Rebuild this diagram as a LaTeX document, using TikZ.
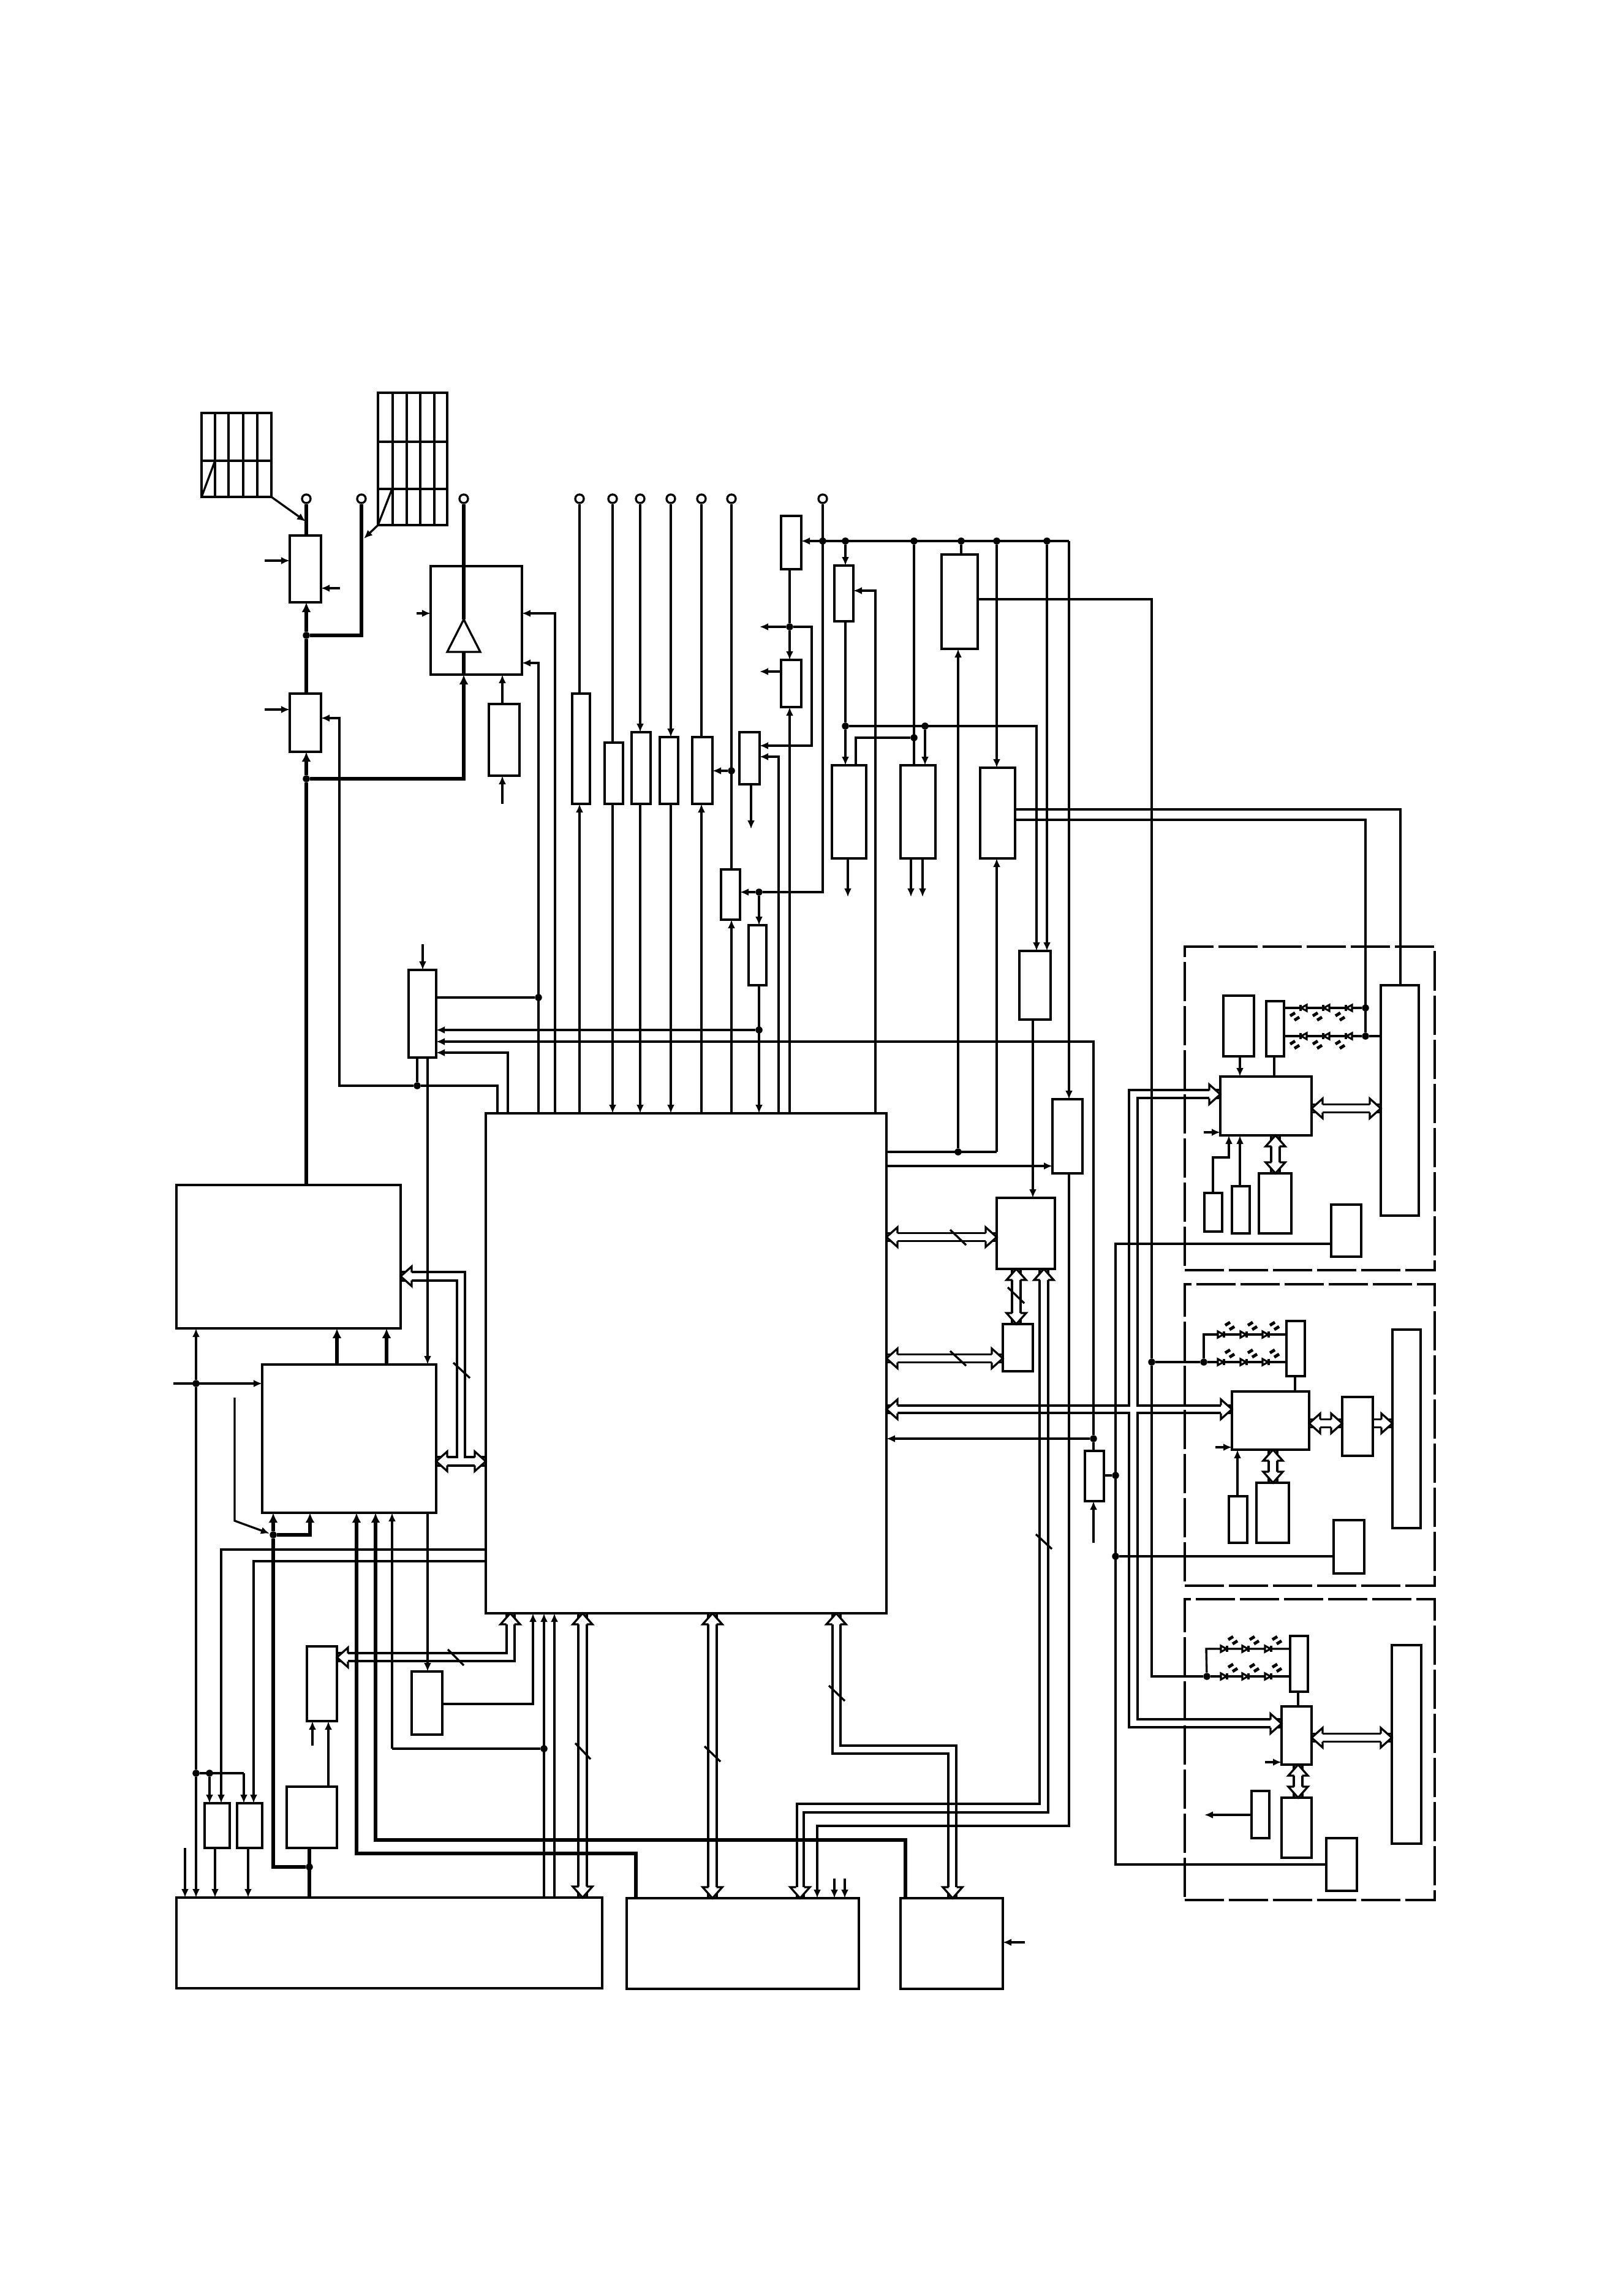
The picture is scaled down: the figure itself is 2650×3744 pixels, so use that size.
\documentclass[tikz,border=0pt]{standalone}
\usetikzlibrary{arrows.meta}
\tikzset{
  blk/.style={draw, rectangle, inner sep=0pt, outer sep=0pt, line width=1.2pt},
  zone/.style={blk, line width=1.3pt, dash pattern=on .64cm off .08cm},
  wire/.style={line width=.95pt},
  arw/.style={wire, -{Latex[length=.14cm,width=.12cm]}},
  heavy/.style={line width=1.55pt},
  harw/.style={heavy, -{Latex[length=.16cm,width=.15cm]}},
  dot/.style={circle, fill, inner sep=0pt, minimum size=.115cm},
  term/.style={circle, draw, fill=white, inner sep=0pt, minimum size=.14cm, line width=.95pt},
  bushead/.pic={\filldraw[fill=white, line width=.95pt] (-18,-6.5) -- (-18,-16) -- (0,0) -- (-18,16) -- (-18,6.5);},
  diode/.pic={
    \filldraw[fill=white, line width=.9pt] (-5,-5) -- (-5,5) -- (4,0) -- cycle;
    \draw[line width=1.3pt] (5,-5) -- (5,5);
    \draw[line width=1.4pt] (7,-15) -- (15,-20);
    \draw[line width=1.4pt] (14,-8) -- (22,-13);
  },
}
\newcommand{\blkbox}[6][]{\node[blk,#1,minimum width={(#5-#3)*.01cm},minimum height={(#6-#4)*.01cm}] (#2) at ({(#3+#5)/2},{(#4+#6)/2}) {};}
\newcommand{\hbus}[2]{\draw[wire] ([yshift=.065cm]#1) -- ([yshift=.065cm]#2); \draw[wire] ([yshift=-.065cm]#1) -- ([yshift=-.065cm]#2);}
\newcommand{\vbus}[2]{\draw[wire] ([xshift=.07cm]#1) -- ([xshift=.07cm]#2); \draw[wire] ([xshift=-.07cm]#1) -- ([xshift=-.07cm]#2);}
\begin{document}
\begin{tikzpicture}[x=.01cm,y=-.01cm]
  \useasboundingbox (0,0) rectangle (2650,3744);
  % panels at the top
  \blkbox[wire]{panA}{329}{674}{443}{811}
  \blkbox[wire]{panB}{617}{641}{730}{857}
  \foreach \x in {351,373,397,420} \draw[wire] (\x,674) -- (\x,811);
  \foreach \x in {641,664,686,709} \draw[wire] (\x,641) -- (\x,857);
  \draw[wire] (329,752) -- (443,752);
  \draw[wire] (617,721) -- (730,721);
  \draw[wire] (617,798) -- (730,798);
  \draw[wire] (329,811) -- (351,752);
  \draw[wire] (617,857) -- (640,798);
  \coordinate (qa) at (499,851);
  \coordinate (qb) at (594,879);
  \draw[arw] (panA.south east) -- (qa);
  \draw[arw] (panB.south west) -- (qb);
  % terminals
  \foreach \n/\x in {a/500,b/590,c/757,d/946,e/1000,f/1045,g/1095,h/1145,i/1194,j/1343}
    \node[term] (p\n) at (\x,814) {};
  % junctions
  \foreach \n/\x/\y in {ja/500/1037,jb/500/1271,jc/681/1772,jd/879/1628,je/1239/1681,jf/1239/1456,
      jg/1194/1258,jh/1289/1023,ji/1343/883,jj/1380/883,jk/1492/883,jl/1569/883,jm/1627/883,jn/1709/883,
      jo/1380/1185,jp/1510/1185,jq/1492/1204,jr/1564/1880,js/1821/2408,jt/1821/2540,ju/1785/2348,
      jv/1880/2223,jw/1965/2223,jx/1970/2736,jy/2229/1645,jz/2229/1691,
      k1/320/2258,k2/320/2894,k3/342/2894,k4/505/3047,k5/446/2505,k6/888/2854}
    \node[dot] (\n) at (\x,\y) {};
  % blocks
  \blkbox{sw1}{473}{874}{524}{983}
  \blkbox{sw2}{473}{1132}{524}{1227}
  \blkbox{amp}{703}{924}{852}{1101}
  \blkbox{ampin}{798}{1149}{848}{1266}
  \blkbox{b1}{934}{1132}{963}{1312}
  \blkbox{b2}{987}{1212}{1017}{1312}
  \blkbox{b3}{1031}{1195}{1062}{1312}
  \blkbox{b4}{1077}{1203}{1107}{1312}
  \blkbox{b5}{1130}{1203}{1163}{1312}
  \blkbox{b6}{1207}{1195}{1240}{1280}
  \blkbox{b7}{1177}{1419}{1208}{1501}
  \blkbox{b8}{1222}{1510}{1251}{1608}
  \blkbox{b9}{1275}{842}{1308}{929}
  \blkbox{b10}{1275}{1077}{1308}{1154}
  \blkbox{b11}{1362}{923}{1393}{1014}
  \blkbox{b12}{1358}{1249}{1414}{1401}
  \blkbox{b13}{1470}{1249}{1527}{1401}
  \blkbox{b14}{1537}{905}{1596}{1059}
  \blkbox{b15}{1600}{1253}{1657}{1401}
  \blkbox{b16}{1664}{1552}{1715}{1664}
  \blkbox{b17}{1718}{1794}{1767}{1915}
  \blkbox{b18}{1771}{2368}{1802}{2450}
  \blkbox{cpu}{793}{1817}{1447}{2633}
  \blkbox{ctl}{667}{1583}{712}{1726}
  \blkbox{pwr}{288}{1934}{654}{2168}
  \blkbox{mix}{428}{2227}{712}{2469}
  \blkbox{s1}{334}{2943}{375}{3016}
  \blkbox{s2}{387}{2943}{428}{3016}
  \blkbox{osc}{468}{2916}{550}{3016}
  \blkbox{dac}{501}{2687}{550}{2809}
  \blkbox{adc}{672}{2728}{722}{2831}
  \blkbox{bat}{288}{3097}{983}{3245}
  \blkbox{mem}{1023}{3098}{1402}{3246}
  \blkbox{ext}{1470}{3098}{1637}{3246}
  \blkbox{c1}{1627}{1955}{1722}{2071}
  \blkbox{c2}{1637}{2161}{1686}{2238}
  % dashed zones
  \blkbox[zone]{zone1}{1934}{1545}{2342}{2073}
  \blkbox[zone]{zone2}{1934}{2096}{2342}{2588}
  \blkbox[zone]{zone3}{1934}{2610}{2342}{3101}
  \blkbox{z1a}{1997}{1625}{2047}{1724}
  \blkbox{z1b}{2067}{1634}{2096}{1724}
  \blkbox{z1m}{1992}{1757}{2141}{1853}
  \blkbox{z1c}{2055}{1915}{2108}{2013}
  \blkbox{z1d}{2011}{1936}{2040}{2013}
  \blkbox{z1e}{1966}{1947}{1995}{2010}
  \blkbox{z1f}{2173}{1966}{2222}{2051}
  \blkbox{z1s}{2254}{1608}{2316}{1984}
  \blkbox{z2b}{2100}{2156}{2130}{2246}
  \blkbox{z2m}{2011}{2271}{2137}{2366}
  \blkbox{z2c}{2051}{2420}{2104}{2518}
  \blkbox{z2d}{2006}{2442}{2036}{2518}
  \blkbox{z2f}{2177}{2481}{2227}{2568}
  \blkbox{z2g}{2191}{2280}{2241}{2376}
  \blkbox{z2s}{2273}{2170}{2319}{2494}
  \blkbox{z3b}{2106}{2670}{2135}{2761}
  \blkbox{z3m}{2092}{2785}{2141}{2880}
  \blkbox{z3c}{2092}{2934}{2141}{3032}
  \blkbox{z3d}{2043}{2923}{2072}{3000}
  \blkbox{z3f}{2165}{3000}{2215}{3086}
  \blkbox{z3s}{2272}{2685}{2320}{3009}
  % heavy supply lines
  \coordinate (ampt) at (757,1011);
  \coordinate (ampb) at (757,1064);
  \draw[heavy] (pa) -- (pa |- sw1.north);
  \draw[harw] (ja) -- (ja |- sw1.south);
  \draw[heavy] (ja) -- (ja |- sw2.north);
  \draw[heavy] (ja) -| (pb);
  \draw[harw] (jb) -- (jb |- sw2.south);
  \draw[heavy] (jb) -- (jb |- pwr.north);
  \draw[harw] (jb) -| (ampb |- amp.south);
  \draw[heavy] (ampb |- amp.south) -- (ampb);
  \draw[heavy] (pc) -- (ampt);
  \draw[wire] (ampt) -- (730,1064) -- (784,1064) -- cycle;
  \coordinate (lf) at (550,2200);
  \coordinate (lg) at (631,2200);
  \draw[harw] (lf |- mix.north) -- (lf |- pwr.south);
  \draw[harw] (lg |- mix.north) -- (lg |- pwr.south);
  \coordinate (le) at (506,2480);
  \coordinate (lh) at (1038,3025);
  \coordinate (li) at (582,3025);
  \coordinate (lj) at (1478,3003);
  \coordinate (lk) at (613,3003);
  \draw[heavy] (k4 |- osc.south) -- (k4 |- bat.north);
  \draw[heavy] (k4) -| (k5);
  \draw[harw] (k5) -- (k5 |- mix.south);
  \draw[harw] (k5) -| (le |- mix.south);
  \draw[harw] (lh |- mem.north) -- (lh) -- (li) -- (li |- mix.south);
  \draw[harw] (lj |- ext.north) -- (lj) -- (lk) -- (lk |- mix.south);
  % upper left wires
  \coordinate (ia) at (432,915);
  \coordinate (ib) at (555,960);
  \coordinate (ic) at (432,1158);
  \coordinate (id) at (680,1001);
  \coordinate (ie) at (820,1312);
  \coordinate (ka) at (554,1172);
  \coordinate (kb) at (812,1772);
  \coordinate (kc) at (690,1541);
  \coordinate (kd) at (1785,1700);
  \coordinate (ke) at (1785,2518);
  \coordinate (kf) at (829,1718);
  \coordinate (kg) at (698,1800);
  \coordinate (kh) at (879,1082);
  \coordinate (kz) at (906,1001);
  \draw[arw] (ia) -- (ia -| sw1.west);
  \draw[arw] (ib) -- (ib -| sw1.east);
  \draw[arw] (ic) -- (ic -| sw2.west);
  \draw[arw] (id) -- (id -| amp.west);
  \draw[arw] (ampin.north -| ie) -- (ie |- amp.south);
  \draw[arw] (ie) -- (ie |- ampin.south);
  \draw[arw] (jc) -| (ka) -- (ka -| sw2.east);
  \draw[wire] (jc) -- (kb) -- (kb |- cpu.north);
  \draw[arw] (kc) -- (kc |- ctl.north);
  \draw[wire] (jd -| ctl.east) -- (jd);
  \draw[arw] (je) -- (je -| ctl.east);
  \draw[arw] (ju) -- (kd) -- (kd -| ctl.east);
  \draw[arw] (kf |- cpu.north) -- (kf) -- (kf -| ctl.east);
  \draw[wire] (jc |- ctl.south) -- (jc);
  \draw[arw] (kg |- ctl.south) -- (kg |- mix.north);
  \draw[arw] (kg |- mix.south) -- (kg |- adc.north);
  \draw[arw] (jd |- cpu.north) -- (kh) -- (kh -| amp.east);
  \draw[arw] (kz |- cpu.north) -- (kz) -- (kz -| amp.east);
  % row of blocks above the processor
  \draw[wire] (pd) -- (pd |- b1.north);
  \draw[arw] (pd |- cpu.north) -- (pd |- b1.south);
  \draw[wire] (pe) -- (pe |- b2.north);
  \draw[arw] (pe |- b2.south) -- (pe |- cpu.north);
  \draw[arw] (pf) -- (pf |- b3.north);
  \draw[arw] (pf |- b3.south) -- (pf |- cpu.north);
  \draw[arw] (pg) -- (pg |- b4.north);
  \draw[arw] (pg |- b4.south) -- (pg |- cpu.north);
  \draw[wire] (ph) -- (ph |- b5.north);
  \draw[arw] (ph |- cpu.north) -- (ph |- b5.south);
  \draw[wire] (pi) -- (pi |- b7.north);
  \draw[arw] (pi |- cpu.north) -- (pi |- b7.south);
  \draw[arw] (jg) -- (jg -| b5.east);
  \coordinate (ki) at (1226,1353);
  \coordinate (kj) at (1325,1217);
  \coordinate (kk) at (1271,1235);
  \coordinate (kl) at (1240,1023);
  \coordinate (km) at (1240,1096);
  \coordinate (kn) at (1745,883);
  \coordinate (ko) at (1692,1185);
  \coordinate (kp) at (1397,1204);
  \coordinate (kq) at (1384,1464);
  \coordinate (kr) at (1880,978);
  \coordinate (ks) at (1686,1900);
  \coordinate (kt) at (1718,1903);
  \coordinate (ku) at (1745,2980);
  \coordinate (kv) at (1334,2980);
  \coordinate (kw) at (2286,1321);
  \coordinate (kx) at (1627,1880);
  \coordinate (ky) at (2229,1338);
  \coordinate (ct) at (1429,964);
  \coordinate (kq1) at (1487,1464);
  \coordinate (kq2) at (1506,1464);
  \draw[arw] (ki |- b6.south) -- (ki);
  \draw[arw] (jh) -| (kj) -- (kj -| b6.east);
  \draw[arw] (kk |- cpu.north) -- (kk) -- (kk -| b6.east);
  \draw[wire] (jh |- b9.south) -- (jh);
  \draw[arw] (jh) -- (jh |- b10.north);
  \draw[arw] (jh) -- (kl);
  \draw[arw] (km -| b10.west) -- (km);
  \draw[arw] (jh |- cpu.north) -- (jh |- b10.south);
  \draw[arw] (kn) -- (kn -| b9.east);
  \draw[arw] (kn) -- (kn |- b17.north);
  \draw[wire] (pj) |- (jf);
  \draw[arw] (jf) -- (jf -| b7.east);
  \draw[arw] (jf) -- (jf |- b8.north);
  \draw[arw] (jf |- b8.south) -- (jf |- cpu.north);
  \draw[arw] (jj) -- (jj |- b11.north);
  \draw[wire] (jj |- b11.south) -- (jo);
  \draw[arw] (jo) -- (jo |- b12.north);
  \draw[arw] (ct |- cpu.north) -- (ct) -- (ct -| b11.east);
  \draw[arw] (jo) -- (ko) -- (ko |- b16.north);
  \draw[arw] (jp) -- (jp |- b13.north);
  \draw[wire] (jk) -- (jk |- b13.north);
  \draw[wire] (jq) -- (kp) -- (kp |- b12.north);
  \draw[arw] (kq |- b12.south) -- (kq);
  \draw[arw] (kq1 |- b13.south) -- (kq1);
  \draw[arw] (kq2 |- b13.south) -- (kq2);
  \draw[wire] (jl) -- (jl |- b14.north);
  \draw[wire] (kr -| b14.east) -- (kr) -- (jv);
  \draw[wire] (jv) |- (jx);
  \draw[wire] (jv) -- (jw);
  \draw[arw] (jm) -- (jm |- b15.north);
  \draw[wire] (cpu.east |- jr) -- (kx);
  \draw[arw] (kx) -- (kx |- b15.south);
  \draw[arw] (jr) -- (jr |- b14.south);
  \draw[arw] (jn) -- (jn |- b16.north);
  \draw[arw] (ks |- b16.south) -- (ks |- c1.north);
  \draw[arw] (kt -| cpu.east) -- (kt);
  \draw[arw] (ku |- b17.south) -- (ku) -- (kv) -- (kv |- mem.north);
  \draw[wire] (kw -| b15.east) -- (kw) -- (kw |- z1s.north);
  \draw[wire] (ky -| b15.east) -- (ky) -- (jz);
  % block by the zones
  \coordinate (kaa) at (1821,2030);
  \coordinate (kab) at (1821,3043);
  \draw[arw] (ju) -- (ju -| cpu.east);
  \draw[wire] (ju) -- (ju |- b18.north);
  \draw[arw] (ke) -- (ke |- b18.south);
  \draw[wire] (js -| b18.east) -- (js);
  \draw[wire] (z1f.west |- kaa) -- (kaa) -- (kab) -- (kab -| z3f.west);
  \draw[wire] (jt) -- (jt -| z2f.west);
  % zone 1
  \coordinate (za) at (1965,1848);
  \coordinate (zb) at (1980,1889);
  \coordinate (zc) at (2006,1889);
  \draw[wire] (jy -| z1b.east) -- (jy);
  \draw[wire] (jz -| z1b.east) -- (jz);
  \draw[wire] (jz) -- (jz -| z1s.west);
  \foreach \x in {2128,2165,2202} {
    \pic[rotate=180] at (\x,1645) {diode};
    \pic[rotate=180] at (\x,1691) {diode};
  }
  \coordinate (zd) at (2024,1800);
  \coordinate (ze) at (2080,1800);
  \draw[arw] (zd |- z1a.south) -- (zd |- z1m.north);
  \draw[wire] (ze |- z1b.south) -- (ze |- z1m.north);
  \draw[arw] (zd |- z1d.north) -- (zd |- z1m.south);
  \draw[arw] (za) -- (za -| z1m.west);
  \draw[arw] (zb |- z1e.north) -- (zb) -- (zc) -- (zc |- z1m.south);
  % zone 2
  \coordinate (zf) at (1965,2178);
  \coordinate (zg) at (1984,2362);
  \coordinate (zh) at (2020,2400);
  \coordinate (zi) at (2114,2260);
  \draw[wire] (jw) -- (zf) -- (zf -| z2b.west);
  \draw[wire] (jw) -- (jw -| z2b.west);
  \foreach \x in {1993,2030,2066} {
    \pic at (\x,2178) {diode};
    \pic at (\x,2223) {diode};
  }
  \draw[wire] (zi |- z2b.south) -- (zi |- z2m.north);
  \draw[arw] (zg) -- (zg -| z2m.west);
  \draw[arw] (zh |- z2d.north) -- (zh |- z2m.south);
  % zone 3
  \coordinate (zj) at (1969,2691);
  \coordinate (zk) at (2065,2876);
  \coordinate (zl) at (1966,2962);
  \coordinate (zm) at (2119,2770);
  \draw[wire] (jx) -- (zj) -- (zj -| z3b.west);
  \draw[wire] (jx) -- (jx -| z3b.west);
  \foreach \x in {1998,2033,2070} {
    \pic at (\x,2691) {diode};
    \pic at (\x,2736) {diode};
  }
  \draw[wire] (zm |- z3b.south) -- (zm |- z3m.north);
  \draw[arw] (zk) -- (zk -| z3m.west);
  \draw[arw] (zl -| z3d.west) -- (zl);
  % lower left wires
  \coordinate (la) at (361,2529);
  \coordinate (lb) at (414,2548);
  \coordinate (lc) at (383,2281);
  \coordinate (ld) at (383,2482);
  \coordinate (lo) at (283,2258);
  \coordinate (lp) at (302,3016);
  \coordinate (lq) at (398,2894);
  \coordinate (lr) at (1673,3170);
  \coordinate (ls) at (351,3060);
  \coordinate (lt) at (405,3060);
  \coordinate (lu) at (536,2860);
  \coordinate (lv) at (510,2849);
  \coordinate (lw) at (870,2781);
  \coordinate (lx) at (640,2854);
  \coordinate (ly) at (905,2900);
  \coordinate (lz) at (1362,3066);
  \coordinate (lzz) at (1379,3066);
  \draw[arw] (cpu.west |- la) -- (la) -- (la |- s1.north);
  \draw[arw] (cpu.west |- lb) -- (lb) -- (lb |- s2.north);
  \draw[arw] (lc) -- (ld) -- (k5);
  \draw[arw] (k1) -- (k1 |- pwr.south);
  \draw[wire] (k1) -- (k2);
  \draw[arw] (k2) -- (k2 |- bat.north);
  \draw[arw] (lo) -- (lo -| mix.west);
  \draw[arw] (lp) -- (lp |- bat.north);
  \draw[wire] (k2) -- (lq);
  \draw[arw] (lq) -- (lq |- s2.north);
  \draw[arw] (k3) -- (k3 |- s1.north);
  \draw[arw] (ls |- s1.south) -- (ls |- bat.north);
  \draw[arw] (lt |- s2.south) -- (lt |- bat.north);
  \draw[arw] (lu |- osc.north) -- (lu |- dac.south);
  \draw[arw] (lv) -- (lv |- dac.south);
  \draw[arw] (adc.east |- lw) -- (lw) -- (lw |- cpu.south);
  \draw[wire] (k6) -- (lx);
  \draw[arw] (lx) -- (lx |- mix.south);
  \draw[arw] (k6 |- bat.north) -- (k6 |- cpu.south);
  \draw[arw] (ly |- bat.north) -- (ly |- cpu.south);
  \draw[arw] (lr) -- (lr -| ext.east);
  \draw[arw] (lz) -- (lz |- mem.north);
  \draw[arw] (lzz) -- (lzz |- mem.north);
  % buses
  \coordinate (ba) at (1447,2019);
  \coordinate (bb) at (1627,2019);
  \coordinate (bc) at (1447,2217);
  \coordinate (bd) at (1637,2217);
  \coordinate (be) at (1659,2071);
  \coordinate (bf) at (1659,2161);
  \coordinate (bg) at (951,2633);
  \coordinate (bh) at (951,3097);
  \coordinate (bi) at (1163,2633);
  \coordinate (bj) at (1163,3098);
  \coordinate (bk) at (2082,1853);
  \coordinate (bl) at (2082,1915);
  \coordinate (bm) at (2141,1809);
  \coordinate (bn) at (2254,1809);
  \coordinate (bo) at (2078,2366);
  \coordinate (bp) at (2078,2420);
  \coordinate (bq) at (2137,2323);
  \coordinate (br) at (2191,2323);
  \coordinate (bs) at (2241,2323);
  \coordinate (bt) at (2273,2323);
  \coordinate (bu) at (2119,2880);
  \coordinate (bv) at (2119,2934);
  \coordinate (bw) at (2141,2836);
  \coordinate (bx) at (2272,2836);
  \hbus{ba}{bb}
  \hbus{bc}{bd}
  \vbus{be}{bf}
  \vbus{bg}{bh}
  \vbus{bi}{bj}
  \vbus{bk}{bl}
  \hbus{bm}{bn}
  \vbus{bo}{bp}
  \hbus{bq}{br}
  \hbus{bs}{bt}
  \vbus{bu}{bv}
  \hbus{bw}{bx}
  \foreach \n/\r in {ba/180,bb/0,bc/180,bd/0,be/90,bf/-90,bg/90,bh/-90,bi/90,bj/-90,bk/90,bl/-90,
      bm/180,bn/0,bo/90,bp/-90,bq/180,br/0,bt/0,bu/90,bv/-90,bw/180,bx/0}
    \pic[rotate=\r] at (\n) {bushead};
  % bent buses
  \draw[wire] (712,2392) -- (793,2392);
  \draw[wire] (712,2378) -- (746,2378) -- (746,2090) -- (654,2090);
  \draw[wire] (793,2378) -- (759,2378) -- (759,2076) -- (654,2076);
  \draw[wire] (550,2711) -- (840,2711) -- (840,2633);
  \draw[wire] (550,2698) -- (827,2698) -- (827,2633);
  \draw[wire] (1359,2633) -- (1359,2862) -- (1548,2862) -- (1548,3098);
  \draw[wire] (1372,2633) -- (1372,2849) -- (1561,2849) -- (1561,3098);
  \draw[wire] (1697,2071) -- (1697,2944) -- (1301,2944) -- (1301,3098);
  \draw[wire] (1711,2071) -- (1711,2958) -- (1312,2958) -- (1312,3098);
  \draw[wire] (1447,2294) -- (1843,2294) -- (1843,1779) -- (1992,1779);
  \draw[wire] (1447,2306) -- (1843,2306) -- (1843,2819) -- (2092,2819);
  \draw[wire] (1992,1792) -- (1857,1792) -- (1857,2294) -- (2011,2294);
  \draw[wire] (2011,2306) -- (1857,2306) -- (1857,2806) -- (2092,2806);
  \foreach \x/\y/\r in {654/2083/180,712/2385/180,793/2385/0,550/2705/180,833/2633/90,
      1365/2633/90,1555/3098/-90,1704/2071/90,1306/3098/-90,1447/2300/180,
      1992/1786/0,2011/2300/0,2092/2813/0}
    \pic[rotate=\r] at (\x,\y) {bushead};
  % slashes over the buses
  \foreach \a/\b/\c/\d in {1551/2007/1577/2032,1551/2205/1577/2229,1645/2101/1672/2127,1691/2504/1717/2528,
      740/2224/767/2249,731/2692/757/2718,939/2845/964/2871,1150/2850/1176/2875,1353/2751/1379/2776}
    \draw[wire] (\a,\b) -- (\c,\d);
\end{tikzpicture}
\end{document}
